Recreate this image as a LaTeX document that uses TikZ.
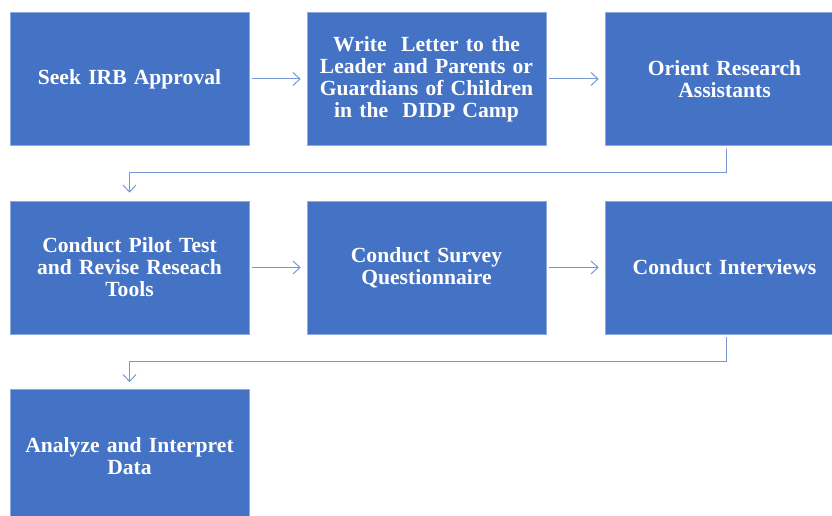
\documentclass[tikz,border=0pt]{standalone}
\usepackage{fontspec}
\setmainfont{Liberation Serif}
\usepackage{tikz}
\usetikzlibrary{arrows.meta}
\usetikzlibrary{positioning}
\definecolor{boxblue}{RGB}{68,114,196}
\definecolor{lineblue}{RGB}{120,152,212}
\tikzset{>={Straight Barb[length=7pt,width=13pt]}}

\begin{document}
\begin{tikzpicture}[x=1pt,y=-1pt,line cap=round,
  stepbox/.style={rectangle,fill=boxblue,draw=boxblue!60!white,line width=0.6pt,
    minimum width=239pt,minimum height=133pt,text width=232pt,align=center,
    text=white,font=\fontsize{21.6}{22}\selectfont\bfseries,inner sep=0pt},
  link/.style={draw=lineblue,line width=1pt,->}]

  \clip (0,0) rectangle (832,516);

  \node (seek) [stepbox] at (129.5,79) {Seek IRB Approval};
  \node (letter) [stepbox] at (426.5,79) {Write \ Letter to the\\Leader and Parents or\\Guardians of Children\\in the \ DIDP Camp};
  \node (orient) [stepbox] at (724.5,79) {Orient Research\\Assistants};

  \node (pilot) [stepbox] at (129.5,267.5) {Conduct Pilot Test\\and Revise Reseach\\Tools};
  \node (survey) [stepbox] at (426.5,267.5) {Conduct Survey\\Questionnaire};
  \node (interview) [stepbox] at (724.5,267.5) {Conduct Interviews};

  \node (analyze) [stepbox] at (129.5,456) {Analyze and Interpret\\Data};


  \draw [link,shorten <=3pt,shorten >=6pt] (seek) -- (letter);
  \draw [link,shorten <=3pt,shorten >=6pt] (letter) -- (orient);
  \draw [link,shorten <=3pt,shorten >=8pt] (orient.south) ++(1.5,0) -- ++(0,27) -| (pilot.north);

  \draw [link,shorten <=3pt,shorten >=6pt] (pilot) -- (survey);
  \draw [link,shorten <=3pt,shorten >=6pt] (survey) -- (interview);
  \draw [link,shorten <=3pt,shorten >=7pt] (interview.south) ++(1.5,0) -- ++(0,27) -| (analyze.north);

\end{tikzpicture}
\end{document}
